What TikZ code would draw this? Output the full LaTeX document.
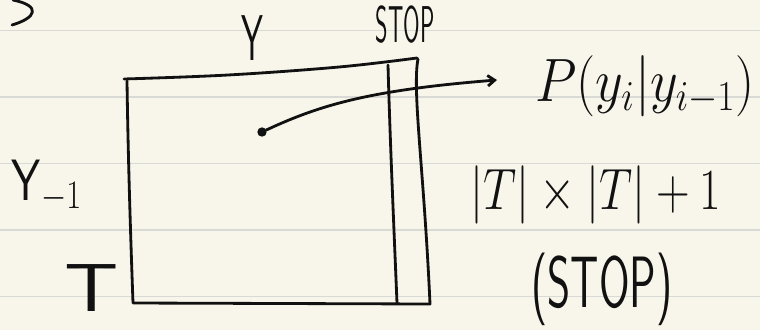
\documentclass[tikz,border=0pt]{standalone}
\usepackage{amsmath}
\usetikzlibrary{arrows.meta}
\definecolor{paper}{HTML}{F8F6EA}
\definecolor{ruling}{HTML}{D9D9D5}
\definecolor{ink}{HTML}{111111}
\tikzset{
  pen/.style={ink, line width=2.4pt, line cap=round, line join=round},
  hand/.style={ink, inner sep=0pt, font=\fontsize{46}{46}\selectfont},
  handmath/.style={ink, inner sep=0pt, font=\fontsize{23}{23}\selectfont},
}
\begin{document}
\begin{tikzpicture}[x=0.03cm, y=-0.03cm]
  \useasboundingbox (0,0) rectangle (760,330);
  \fill[paper] (0,0) rectangle (760,330);
  \foreach \ly in {30.5,97,163.5,230,296.5}
    \draw[ruling, line width=1pt] (0,\ly) -- (760,\ly);
  % stroke left over at the top
  \draw[pen] (13,0) .. controls (42,6) and (36,18) .. (12,25);
  % the table
  \draw[pen] plot[smooth, tension=0.6] coordinates {(124,79) (228,75) (339,67) (417,58)};
  \draw[pen] (418,59) .. controls (412,90) and (424,170) .. (430,304)
    -- (133,303) .. controls (130,220) and (128,150) .. (127,81);
  \draw[pen] (388,65) .. controls (390,140) and (394,230) .. (397,303);
  % labels
  \node[hand] (ycol) at (252,38) {\scalebox{0.65}[1.2]{\sffamily Y}};
  \node[hand, font=\fontsize{34}{34}\selectfont] (stopcol) at (405,25) {\scalebox{0.6}[1.3]{\sffamily STOP}};
  \node[handmath] (yrow) at (47,186) {\scalebox{1.6}[2]{$\mathsf{Y}_{-1}$}};
  \node[hand, font=\fontsize{58}{58}\selectfont] (trow) at (92,288) {\scalebox{1.25}[1]{\sffamily T}};
  \node[handmath] (plabel) at (645,86) {\scalebox{1.85}[2.1]{$P(y_i|y_{i-1})$}};
  \node[handmath] (size) at (596,195) {\scalebox{1.6}[2]{$|T|\times|T|+1$}};
  \node[hand] (stopnote) at (602,289) {\scalebox{0.82}[1.35]{\sffamily (STOP)}};
  % one entry and where it points
  \node[circle, fill=ink, inner sep=0pt, minimum size=8pt] (dot) at (262,132) {};
  \coordinate (tip) at (497,80);
  \draw[pen, -{Straight Barb[length=6pt, width=9pt]}] (dot) .. controls (320,105) and (370,90) .. (tip);
\end{tikzpicture}
\end{document}
